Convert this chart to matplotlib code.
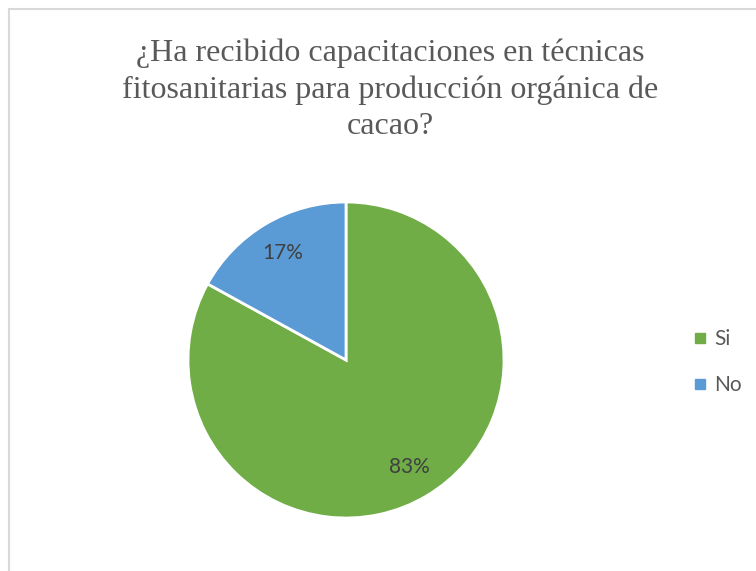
import matplotlib.pyplot as plt
from matplotlib.patches import Rectangle
from matplotlib.lines import Line2D

labels = ["Si", "No"]
values = [83, 17]
colors = ["#70AD47", "#5B9BD5"]
title = "¿Ha recibido capacitaciones en técnicas\nfitosanitarias para producción orgánica de\ncacao?"

W, H = 756, 571
fig = plt.figure(figsize=(W / 100, H / 100), dpi=100)

# light chart-area border (runs off the right and bottom edges)
fig.patches.append(Rectangle((9 / W, -0.1), 1.2, 1 - 9 / H + 0.1, transform=fig.transFigure,
                             fill=False, edgecolor="#d9d9d9", lw=1.5))

cx, cy, r = 346, 360, 158
ax = fig.add_axes([(cx - r) / W, (H - cy - r) / H, 2 * r / W, 2 * r / H])
wedges, _, autotexts = ax.pie(values, colors=colors, startangle=90, counterclock=False,
                              autopct="%1.0f%%", pctdistance=0.79,
                              wedgeprops=dict(edgecolor="white", linewidth=2),
                              textprops=dict(color="#404040", fontsize=15, family="Lato"))
ax.set_xlim(-1, 1)
ax.set_ylim(-1, 1)

fig.text(390 / W, 1 - 39 / H, title, ha="center", va="top", fontsize=23,
         family="Liberation Serif", color="#595959", linespacing=1.32)

handles = [Line2D([], [], marker="s", ls="", color=c, markersize=7) for c in colors]
fig.legend(handles, labels, loc="center left", bbox_to_anchor=(677 / W, 1 - 362 / H),
           frameon=False, handletextpad=0.1, handlelength=1.2, labelspacing=1.25,
           borderpad=0, prop=dict(family="Lato", size=15), labelcolor="#595959")

fig.savefig("out.png", dpi=100)
